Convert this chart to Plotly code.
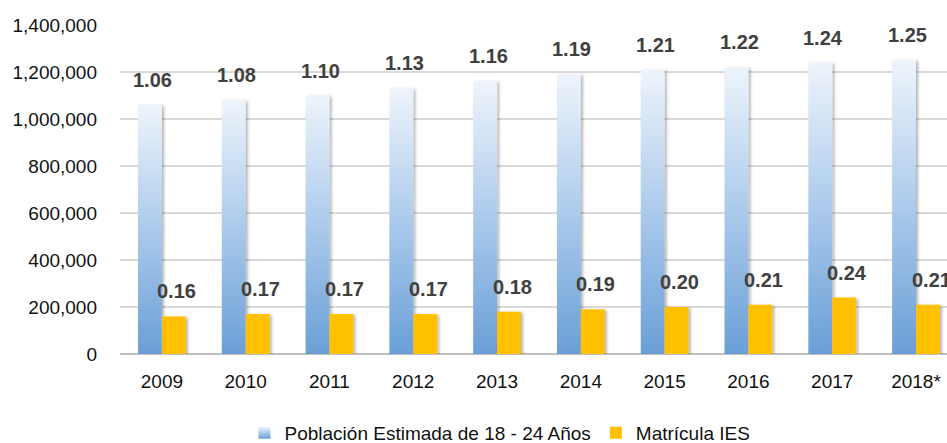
import plotly.graph_objects as go

years = ["2009", "2010", "2011", "2012", "2013", "2014", "2015", "2016", "2017", "2018*"]
poblacion = [1060000, 1080000, 1100000, 1130000, 1160000, 1190000, 1210000, 1220000, 1240000, 1250000]
matricula = [160000, 170000, 170000, 170000, 180000, 190000, 200000, 210000, 240000, 210000]
tick_vals = [0, 200000, 400000, 600000, 800000, 1000000, 1200000, 1400000]

FONT = "Liberation Sans, Arial, sans-serif"
FS = 19
BLUE = "rgb(111,163,217)"
YELLOW = "#FFC000"

fig = go.Figure()
fig.add_trace(go.Bar(x=years, y=poblacion, name="Población Estimada de 18 - 24 Años",
                     marker=dict(color=BLUE, line=dict(width=0))))
fig.add_trace(go.Bar(x=years, y=matricula, name="Matrícula IES",
                     marker=dict(color=YELLOW, line=dict(width=0))))

for i, v in enumerate(poblacion):
    fig.add_annotation(x=i, y=v, text=f"{v/1e6:.2f}", showarrow=False, xshift=-9, yshift=25,
                       yanchor="middle", font=dict(family=FONT, size=20, color="#404040", weight="bold"))
for i, v in enumerate(matricula):
    fig.add_annotation(x=i, y=v, text=f"{v/1e6:.2f}", showarrow=False, xshift=15, yshift=25,
                       yanchor="middle", font=dict(family=FONT, size=20, color="#404040", weight="bold"))

fig.update_layout(
    width=947, height=443,
    margin=dict(l=120, r=0, t=25, b=89, autoexpand=False),
    paper_bgcolor="white", plot_bgcolor="white",
    barmode="group", bargap=0.43, bargroupgap=0,
    font=dict(family=FONT, size=FS, color="#111111"),
    showlegend=True,
    legend=dict(orientation="h", x=0.4595, xanchor="center", y=-0.24, yanchor="middle",
                font=dict(family=FONT, size=FS, color="#111111"), itemclick=False),
    xaxis=dict(type="category", range=[-0.5, 9.37], showgrid=False, showline=False, ticks="",
               automargin=False,
               tickfont=dict(family=FONT, size=FS, color="#111111"), ticklabelstandoff=14),
    yaxis=dict(range=[0, 1400000], tickvals=tick_vals, tickformat=",d", showgrid=True,
               gridcolor="#d9d9d9", gridwidth=1.5, zeroline=True, zerolinecolor="#bfbfbf",
               zerolinewidth=2, showline=False, ticks="", automargin=False,
               tickfont=dict(family=FONT, size=FS, color="#111111"), ticklabelstandoff=22),
)

post = """
document.body.style.margin = '0';
document.body.style.padding = '0';
var gd = document.getElementById('{plot_id}');
function applyGrad(){
  var svg = gd.querySelector('svg.main-svg');
  if (!svg) return;
  var ns = 'http://www.w3.org/2000/svg';
  var defs = svg.querySelector('defs');
  if (!defs) { defs = document.createElementNS(ns, 'defs'); svg.insertBefore(defs, svg.firstChild); }
  if (!document.getElementById('bluegrad')) {
    var lg = document.createElementNS(ns, 'linearGradient');
    lg.setAttribute('id', 'bluegrad');
    lg.setAttribute('x1', '0'); lg.setAttribute('y1', '0');
    lg.setAttribute('x2', '0'); lg.setAttribute('y2', '1');
    [['0', '#eef4fb'], ['0.5', '#abcaec'], ['1', '#6a9fd6']].forEach(function(s){
      var st = document.createElementNS(ns, 'stop');
      st.setAttribute('offset', s[0]); st.setAttribute('stop-color', s[1]);
      lg.appendChild(st);
    });
    defs.appendChild(lg);
    var f = document.createElementNS(ns, 'filter');
    f.setAttribute('id', 'barshadow');
    f.setAttribute('x', '-30%'); f.setAttribute('y', '-10%');
    f.setAttribute('width', '160%'); f.setAttribute('height', '120%');
    var ds = document.createElementNS(ns, 'feDropShadow');
    ds.setAttribute('dx', '2'); ds.setAttribute('dy', '1');
    ds.setAttribute('stdDeviation', '1.5'); ds.setAttribute('flood-color', '#000');
    ds.setAttribute('flood-opacity', '0.3');
    f.appendChild(ds);
    defs.appendChild(f);
  }
  gd.querySelectorAll('path').forEach(function(p){
    if (p.style.fill === 'rgb(111, 163, 217)') { p.style.fill = 'url(#bluegrad)'; }
  });
  gd.querySelectorAll('g.trace.bars g.point path').forEach(function(p){
    p.setAttribute('filter', 'url(#barshadow)');
  });
}
applyGrad();
gd.on('plotly_afterplot', applyGrad);
"""

fig.write_html("out.html", post_script=post, config={"displayModeBar": False})
